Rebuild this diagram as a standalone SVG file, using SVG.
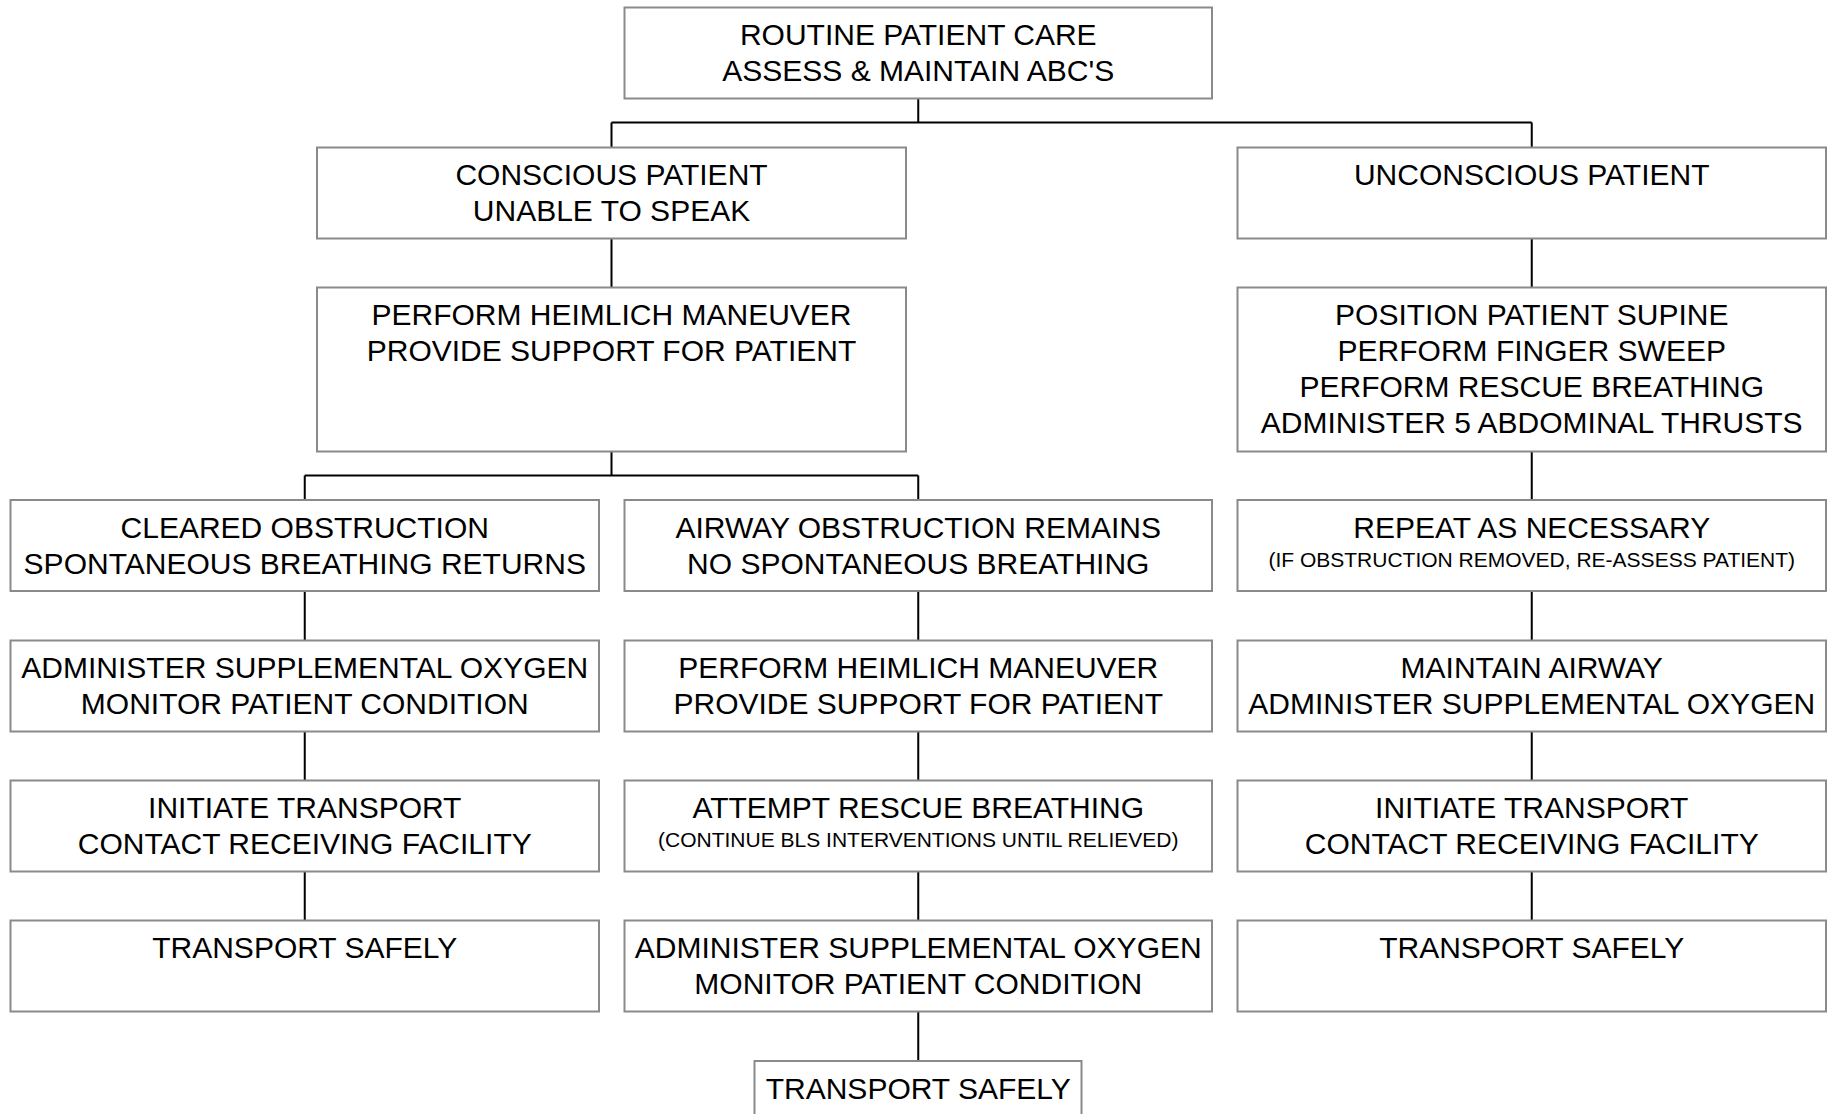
<svg xmlns="http://www.w3.org/2000/svg" width="1834" height="1114" viewBox="0 0 1834 1114">
<style>
.box{fill:#fff;stroke:#8a8a8a;stroke-width:2}
.t{font-family:"Liberation Sans",Arial,sans-serif;font-size:30px;fill:#000;text-anchor:middle}
.s{font-family:"Liberation Sans",Arial,sans-serif;font-size:21px;fill:#000;text-anchor:middle}
.c{fill:none;stroke:#000;stroke-width:2}
</style>
<rect width="1834" height="1114" fill="#fff"/>
<g id="connectors">
<path class="c" d="M918.25 98.5V122.5M611.5 122.5H1531.75M611.5 122.5V147.5M1531.75 122.5V147.5"/>
<path class="c" d="M611.5 238.5V287.5M1531.75 238.5V287.5"/>
<path class="c" d="M611.5 451.5V475.5M304.75 475.5H918.25M304.75 475.5V500M918.25 475.5V500M1531.75 451.5V500"/>
<path class="c" d="M304.75 591V640.5M304.75 731.5V780.5M304.75 871.5V920.5"/>
<path class="c" d="M918.25 591V640.5M918.25 731.5V780.5M918.25 871.5V920.5M918.25 1011.5V1061"/>
<path class="c" d="M1531.75 591V640.5M1531.75 731.5V780.5M1531.75 871.5V920.5"/>
</g>
<g id="n-routine"><rect class="box" x="624.5" y="7.5" width="587.5" height="91"/><text class="t" x="918.25" y="45">ROUTINE PATIENT CARE</text><text class="t" x="918.25" y="81">ASSESS &amp; MAINTAIN ABC'S</text></g>
<g id="n-conscious"><rect class="box" x="317" y="147.5" width="589" height="91"/><text class="t" x="611.5" y="185">CONSCIOUS PATIENT</text><text class="t" x="611.5" y="221">UNABLE TO SPEAK</text></g>
<g id="n-unconscious"><rect class="box" x="1237.5" y="147.5" width="588.5" height="91"/><text class="t" x="1531.75" y="185">UNCONSCIOUS PATIENT</text></g>
<g id="n-heimlich1"><rect class="box" x="317" y="287.5" width="589" height="164"/><text class="t" x="611.5" y="325">PERFORM HEIMLICH MANEUVER</text><text class="t" x="611.5" y="361">PROVIDE SUPPORT FOR PATIENT</text></g>
<g id="n-position"><rect class="box" x="1237.5" y="287.5" width="588.5" height="164"/><text class="t" x="1531.75" y="325">POSITION PATIENT SUPINE</text><text class="t" x="1531.75" y="361">PERFORM FINGER SWEEP</text><text class="t" x="1531.75" y="397">PERFORM RESCUE BREATHING</text><text class="t" x="1531.75" y="433">ADMINISTER 5 ABDOMINAL THRUSTS</text></g>
<g id="n-cleared"><rect class="box" x="10.5" y="500" width="588.5" height="91"/><text class="t" x="304.75" y="537.5">CLEARED OBSTRUCTION</text><text class="t" x="304.75" y="573.5">SPONTANEOUS BREATHING RETURNS</text></g>
<g id="n-remains"><rect class="box" x="624.5" y="500" width="587.5" height="91"/><text class="t" x="918.25" y="537.5">AIRWAY OBSTRUCTION REMAINS</text><text class="t" x="918.25" y="573.5">NO SPONTANEOUS BREATHING</text></g>
<g id="n-repeat"><rect class="box" x="1237.5" y="500" width="588.5" height="91"/><text class="t" x="1531.75" y="537.5">REPEAT AS NECESSARY</text><text class="s" x="1531.75" y="566.5">(IF OBSTRUCTION REMOVED, RE-ASSESS PATIENT)</text></g>
<g id="n-oxygen-l"><rect class="box" x="10.5" y="640.5" width="588.5" height="91"/><text class="t" x="304.75" y="678">ADMINISTER SUPPLEMENTAL OXYGEN</text><text class="t" x="304.75" y="714">MONITOR PATIENT CONDITION</text></g>
<g id="n-heimlich2"><rect class="box" x="624.5" y="640.5" width="587.5" height="91"/><text class="t" x="918.25" y="678">PERFORM HEIMLICH MANEUVER</text><text class="t" x="918.25" y="714">PROVIDE SUPPORT FOR PATIENT</text></g>
<g id="n-airway"><rect class="box" x="1237.5" y="640.5" width="588.5" height="91"/><text class="t" x="1531.75" y="678">MAINTAIN AIRWAY</text><text class="t" x="1531.75" y="714">ADMINISTER SUPPLEMENTAL OXYGEN</text></g>
<g id="n-transport-l"><rect class="box" x="10.5" y="780.5" width="588.5" height="91"/><text class="t" x="304.75" y="818">INITIATE TRANSPORT</text><text class="t" x="304.75" y="854">CONTACT RECEIVING FACILITY</text></g>
<g id="n-rescue"><rect class="box" x="624.5" y="780.5" width="587.5" height="91"/><text class="t" x="918.25" y="818">ATTEMPT RESCUE BREATHING</text><text class="s" x="918.25" y="847">(CONTINUE BLS INTERVENTIONS UNTIL RELIEVED)</text></g>
<g id="n-transport-r"><rect class="box" x="1237.5" y="780.5" width="588.5" height="91"/><text class="t" x="1531.75" y="818">INITIATE TRANSPORT</text><text class="t" x="1531.75" y="854">CONTACT RECEIVING FACILITY</text></g>
<g id="n-safe-l"><rect class="box" x="10.5" y="920.5" width="588.5" height="91"/><text class="t" x="304.75" y="958">TRANSPORT SAFELY</text></g>
<g id="n-oxygen-m"><rect class="box" x="624.5" y="920.5" width="587.5" height="91"/><text class="t" x="918.25" y="958">ADMINISTER SUPPLEMENTAL OXYGEN</text><text class="t" x="918.25" y="994">MONITOR PATIENT CONDITION</text></g>
<g id="n-safe-r"><rect class="box" x="1237.5" y="920.5" width="588.5" height="91"/><text class="t" x="1531.75" y="958">TRANSPORT SAFELY</text></g>
<g id="n-safe-m"><rect class="box" x="754.5" y="1061" width="327" height="91"/><text class="t" x="918.25" y="1098.5">TRANSPORT SAFELY</text></g>
</svg>
